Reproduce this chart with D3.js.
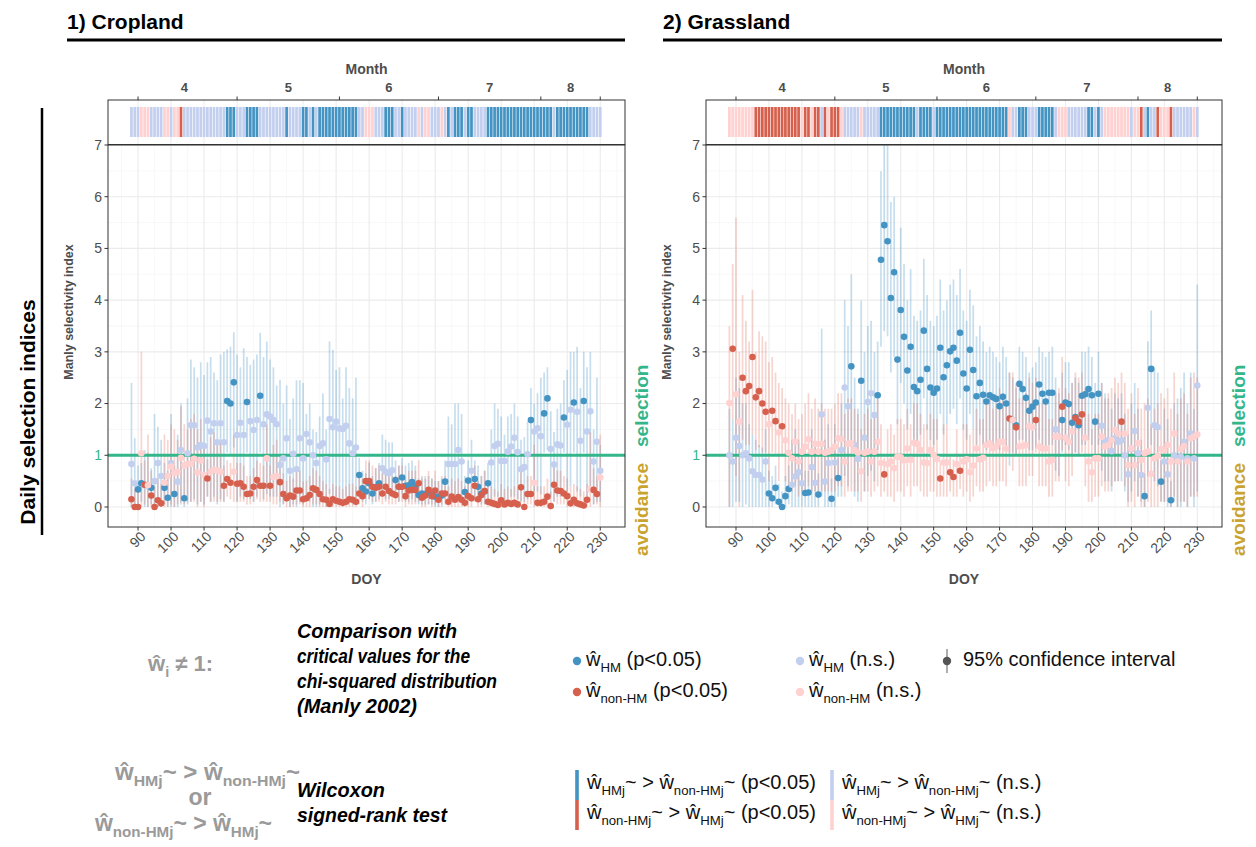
<!DOCTYPE html>
<html><head><meta charset="utf-8">
<script src="https://cdn.jsdelivr.net/npm/d3@7"></script>
<style>body{margin:0;background:#fff}svg{display:block}</style>
</head><body>
<svg id="chart" width="1256" height="847"></svg>
<script>
// ---------------- DATA ----------------
const days = d3.range(88, 231); // DOY 88..230
const xTickValues = [90,100,110,120,130,140,150,160,170,180,190,200,210,220,230];
const yTickValues = [0,1,2,3,4,5,6,7];
const monthLabels = ["4","5","6","7","8"];
const monthLabelDOY = [104,135.5,166,196.5,221];
const monthBreakDOY = [90,120,151,181,212,230];

// Cropland – HM
const cropHM = [0.83,0.46,0.34,0.46,0.42,0.4,0.37,0.5,0.85,0.6,
0.37,0.18,0.85,0.25,0.49,1.1,0.17,1.04,1.58,1.58,
1.15,1.2,1.18,1.67,1.46,1.62,1.25,1.62,1.25,2.05,
2.0,2.41,1.39,1.63,1.39,2.03,1.66,1.49,1.68,2.15,
1.6,1.79,1.75,1.68,1.6,0.81,0.94,1.33,0.7,1.03,
0.73,1.33,0.94,1.41,1.25,1.0,0.85,1.18,1.23,0.92,
1.7,1.54,1.65,1.52,1.51,1.57,1.23,1.04,1.15,0.62,
0.36,0.3,0.46,0.26,0.38,0.46,0.75,0.68,0.65,0.71,
0.52,0.39,0.57,0.41,0.42,0.48,0.39,0.23,0.26,0.25,
0.28,0.24,0.2,0.2,0.22,0.49,0.83,0.83,0.83,1.1,
0.88,0.29,0.51,0.7,0.54,0.39,0.26,0.3,0.46,0.86,
1.18,1.22,0.89,0.89,1.07,1.17,1.34,1.06,0.73,0.77,
1.02,1.68,1.46,1.52,1.37,1.81,2.1,1.12,0.82,1.21,
1.19,1.73,1.59,1.88,2.02,1.84,1.28,2.05,1.46,1.85,
0.88,1.26,0.7];
const cropHMlo = [0,0,0.05,0.1,0,0,0.05,0,0,0,
0.05,0,0,0,0,0.05,0,0.05,0.1,0.15,
0.05,0.1,0.05,0.2,0.1,0.2,0.05,0.15,0.1,1.05,
1.02,1.15,0.1,0.2,0.15,1.05,0.15,0.1,0.2,1.05,
0.15,0.25,0.2,0.2,0.2,0,0.05,0.1,0,0.05,
0,0.1,0.05,0.1,0.1,0,0,0.05,0.1,0,
0.25,0.2,0.2,0.15,0.15,0.2,0.1,0.05,0.1,0.3,
0.1,0.05,0.15,0.05,0.1,0.15,0.2,0.15,0.15,0.2,
0.2,0.1,0.25,0.1,0.1,0.15,0.1,0.05,0.05,0.05,
0.05,0.05,0,0,0,0.15,0.1,0.1,0.1,0.2,
0.1,0.05,0.15,0.1,0.15,0.1,0.05,0.05,0.1,0.1,
0.2,0.2,0.1,0.1,0.15,0.2,0.2,0.15,0.1,0.1,
0.15,1.05,0.3,0.3,0.25,1.05,1.1,0.2,0.1,0.2,
0.2,1.05,0.3,0.4,1.05,0.3,0.2,1.05,0.2,0.3,
0.05,0.1,0.1];
const cropHMhi = [2.4,1.33,0.8,0.85,1.1,1.05,0.75,1.8,1.55,1.3,
0.85,0.7,1.8,0.8,1.4,2.0,0.75,2.1,2.85,2.7,
2.5,2.8,2.55,2.8,2.9,2.6,2.45,2.95,3.0,3.05,
3.1,3.38,2.95,2.7,3.07,2.9,2.75,2.85,2.95,3.37,
2.9,3.2,2.85,2.7,2.35,2.46,2.0,2.35,1.7,2.1,
2.45,2.45,2.4,1.8,2.0,1.5,1.45,1.75,2.2,1.5,
3.2,3.04,2.65,2.7,2.1,2.7,2.3,2.1,2.5,0.95,
0.7,0.65,0.85,0.6,0.75,0.85,1.4,1.3,1.25,1.25,
0.9,0.8,0.95,0.8,0.85,0.9,0.8,0.55,0.6,0.55,
0.6,0.55,0.5,0.5,0.55,0.9,1.75,1.6,2.0,2.0,
1.8,0.6,0.9,1.3,0.9,0.8,0.6,0.7,0.85,1.5,
2.0,1.9,1.75,1.4,1.75,1.8,2.0,1.75,1.3,1.35,
1.65,2.3,2.0,2.2,2.5,2.6,2.7,1.85,1.45,1.9,
2.0,2.45,2.65,3.0,3.0,3.1,2.3,3.0,2.7,3.0,
1.5,2.5,1.2];
const cropHMsig = [0,0,1,1,0,0,1,0,0,0,
1,1,0,1,0,0,1,0,0,0,
0,0,0,0,0,0,0,0,0,1,
1,1,0,0,0,1,0,0,0,1,
0,0,0,0,0,0,0,0,0,0,
0,0,0,0,0,0,0,0,0,0,
0,0,0,0,0,0,0,0,0,1,
1,1,1,1,1,1,0,0,0,0,
1,1,1,1,1,1,1,1,1,1,
1,1,1,1,1,1,0,0,0,0,
0,1,1,0,1,1,1,1,1,0,
0,0,0,0,0,0,0,0,0,0,
0,1,0,0,0,1,1,0,0,0,
0,1,0,0,1,0,0,1,0,0,
0,0,0];

// Cropland – non-HM
const cropNH = [0.15,0,0,1.04,0.43,0.42,0.22,0,0.13,0.07,
0.47,0.6,0.78,0.66,0.68,0.95,0.8,0.83,0.83,0.93,
0.67,0.9,0.62,0.55,0.68,0.72,0.7,0.68,0.41,0.54,
0.47,0.68,0.45,0.46,0.39,0.25,0.26,0.39,0.52,0.41,
0.41,0.94,0.41,0.58,0.6,0.48,0.25,0.17,0.22,0.2,
0.32,0.32,0.15,0.17,0.23,0.36,0.33,0.25,0.15,0.14,
0.06,0.15,0.12,0.1,0.08,0.1,0.15,0.14,0.1,0.26,
0.21,0.5,0.5,0.39,0.37,0.39,0.26,0.39,0.31,0.26,
0.23,0.39,0.39,0.21,0.32,0.33,0.33,0.46,0.18,0.22,
0.33,0.21,0.32,0.14,0.26,0.26,0.1,0.2,0.14,0.19,
0.14,0.08,0.21,0.17,0.41,0.15,0.23,0.31,0.1,0.08,
0.06,0.04,0.13,0.05,0.08,0.06,0.08,0.05,0.38,0,
0.25,0.25,0.47,0.08,0.08,0.1,0.2,0.02,0.43,0.32,
0.31,0.26,0.21,0.07,0.14,0.07,0.05,0.03,0.14,0.34,
0.33,0.25,0.57];
const cropNHlo = [0,0,0,0,0.05,0,0,0,0,0,
0,0,0.05,0,0.05,0.1,0.05,0.1,0.1,0.1,
0,0.1,0,0.2,0.1,0.1,0.1,0.1,0.1,0.2,
0.15,0.1,0.1,0.1,0.1,0.05,0.05,0.1,0.15,0.1,
0.1,0.1,0.1,0.05,0.05,0.1,0.05,0,0,0,
0.05,0.05,0,0,0,0.05,0.05,0,0,0,
0,0,0,0,0,0,0,0,0,0.05,
0,0.15,0.15,0.1,0.1,0.1,0.05,0.1,0.05,0.05,
0.05,0.1,0.1,0,0.05,0.05,0.05,0.1,0,0,
0.05,0,0.05,0,0.05,0.05,0,0,0,0,
0,0,0,0,0.1,0,0,0.05,0,0,
0,0,0,0,0,0,0,0,0.1,0,
0.05,0.05,0,0,0,0,0,0,0.1,0.05,
0.05,0.05,0,0,0,0,0,0,0,0,
0.05,0.05,0];
const cropNHhi = [0.55,0.35,0.3,3.0,0.9,1.4,0.7,0.4,0.55,0.45,
1.4,1.3,1.6,1.5,1.3,1.95,1.6,1.5,1.7,1.8,
1.5,1.7,1.2,0.92,1.35,1.45,1.3,1.25,0.8,0.9,
0.85,1.4,0.85,0.85,0.8,0.6,0.6,0.75,0.9,0.85,
0.8,1.6,0.8,1.2,1.3,0.9,0.65,0.5,0.6,0.55,
0.7,0.7,0.5,0.5,0.6,0.75,0.7,0.6,0.5,0.45,
0.35,0.45,0.4,0.4,0.35,0.4,0.45,0.45,0.4,0.6,
0.55,0.9,0.9,0.8,0.75,0.8,0.65,0.75,0.7,0.6,
0.6,0.8,0.8,0.55,0.7,0.7,0.7,0.9,0.55,0.6,
0.7,0.55,0.7,0.5,0.6,0.6,0.4,0.55,0.5,0.55,
0.5,0.4,0.55,0.5,0.8,0.5,0.6,0.7,0.4,0.4,
0.35,0.3,0.45,0.35,0.4,0.35,0.4,0.35,0.8,0.3,
0.6,0.6,1.2,0.4,0.4,0.4,0.55,0.3,0.85,0.7,
0.7,0.6,0.55,0.4,0.45,0.4,0.35,0.3,0.45,1.45,
0.75,0.6,1.4];
const cropNHsig = [1,1,1,0,1,0,1,1,1,1,
0,0,0,0,0,0,0,0,0,0,
0,0,0,1,0,0,0,0,1,1,
1,0,1,1,1,1,1,1,1,1,
1,0,1,0,0,1,1,1,1,1,
1,1,1,1,1,1,1,1,1,1,
1,1,1,1,1,1,1,1,1,1,
1,1,1,1,1,1,1,1,1,1,
1,1,1,1,1,1,1,1,1,1,
1,1,1,1,1,1,1,1,1,1,
1,1,1,1,1,1,1,1,1,1,
1,1,1,1,1,1,1,1,1,1,
1,1,0,1,1,1,1,1,1,1,
1,1,1,1,1,1,1,1,1,0,
1,1,0];

// Grassland – HM
const grassHM = [1.0,0.88,1.34,1.18,1.0,1.04,0.94,0.69,0.62,0.62,
0.53,0.88,0.26,0.17,0.37,0.1,0,0.21,0.35,0.43,
0.59,0.67,0.46,0.27,0.28,0.77,0.47,0.24,1.79,0.49,
0.85,0.16,0.86,0.56,1.1,2.31,1.95,2.72,1.2,0.93,
2.44,1.34,2.03,2.2,1.78,2.16,4.78,5.45,5.14,4.04,
4.54,2.85,3.81,3.29,2.64,3.1,2.32,2.24,2.46,3.41,
2.67,2.31,2.21,2.29,3.08,2.51,2.74,3.01,3.08,2.83,
3.37,2.58,2.29,3.04,2.65,2.14,2.4,2.17,2.04,2.16,
2.12,2.09,1.95,2.13,2.0,1.71,1.68,1.58,2.38,2.28,
2.11,1.86,1.94,2.02,2.37,2.19,2.04,2.21,2.21,1.5,
1.36,1.68,2.02,1.99,1.63,1.74,1.58,2.15,2.18,2.28,
2.16,1.65,2.19,1.57,1.28,1.29,1.08,1.33,1.26,1.29,
1.0,0.63,1.12,1.47,1.04,0.62,0.21,1.92,2.67,1.58,
1.54,0.49,0.88,0.63,0.13,1.0,0.94,0.97,1.26,0.94,
1.42,0.94,2.35];
const grassHMlo = [0,0,0.1,0.1,0,0.05,0,0,0,0,
0,0,0,0,0.05,0,0,0,0.05,0,
0,0,0,0,0,0,0,0,0.2,0,
0,0,0,0.2,0.2,0.6,0.4,1.2,0.2,0.1,
1.1,0.3,0.6,0.7,0.5,1.1,3.1,3.4,3.3,2.6,
2.9,1.6,2.4,2.0,1.5,1.8,1.3,1.2,1.4,2.1,
1.5,1.3,1.2,1.3,1.8,1.4,1.6,1.8,1.9,1.6,
2.1,1.5,1.3,1.8,1.5,1.2,1.4,1.2,1.1,1.2,
1.2,1.15,1.1,1.2,1.1,0.8,1.05,1.02,1.3,1.3,
1.2,1.1,1.1,1.15,1.3,1.2,1.15,1.2,1.2,0.7,
0.6,1.05,1.2,1.1,1.03,1.05,1.02,1.2,1.2,1.3,
1.2,1.03,1.2,0.7,0.5,0.5,0.3,0.5,0.5,0.5,
0.3,0.1,0.3,0.5,0.2,0.1,0,0.6,1.2,0.5,
0.4,0.1,0.1,0,0,0.1,0,0,0.1,0,
0.2,0,0.3];
const grassHMhi = [1.9,1.7,2.5,2.3,2.0,2.0,1.6,1.4,1.3,1.2,
1.15,1.5,0.7,0.6,0.8,0.45,0.3,0.6,0.8,1.3,
1.5,1.3,1.1,0.7,0.7,1.5,1.2,0.65,3.45,1.3,
1.6,0.55,1.6,0.95,2.0,4.0,3.5,4.5,2.5,1.9,
3.99,3.0,3.5,3.6,3.0,3.2,6.49,7.6,7.3,5.9,
6.0,4.5,5.4,4.7,4.0,4.6,3.7,3.6,3.8,4.8,
4.1,3.6,3.5,3.7,4.4,3.8,4.0,4.3,4.4,4.1,
4.6,3.8,3.6,4.2,3.9,3.3,3.5,3.2,3.0,3.1,
3.0,2.9,2.8,3.1,2.9,2.6,2.5,2.3,3.1,3.0,
2.9,2.6,2.7,2.8,3.1,3.0,2.9,3.0,3.1,2.5,
2.2,2.6,2.8,2.8,2.4,2.5,2.4,3.0,3.0,3.1,
2.9,2.4,3.0,2.4,2.2,2.1,1.9,2.2,2.1,2.2,
1.8,1.4,2.0,2.4,1.9,1.3,0.65,3.2,3.8,2.7,
2.6,0.9,1.9,1.7,0.5,2.0,2.1,2.3,2.6,2.0,
2.6,1.9,4.3];
const grassHMsig = [0,0,0,0,0,0,0,0,0,0,
0,0,1,1,1,1,1,1,1,0,
0,0,0,1,1,0,0,1,0,0,
0,1,0,1,0,0,0,1,0,0,
1,0,0,0,0,1,1,1,1,1,
1,1,1,1,1,1,1,1,1,1,
1,1,1,1,1,1,1,1,1,1,
1,1,1,1,1,1,1,1,1,1,
1,1,1,1,1,0,1,1,1,1,
1,1,1,1,1,1,1,1,1,0,
0,1,1,1,1,1,1,1,1,1,
1,1,1,0,0,0,0,0,0,0,
0,0,0,0,0,0,1,0,1,0,
0,1,0,0,1,0,0,0,0,0,
0,0,0];

// Grassland – non-HM
const grassNH = [2.01,3.06,2.18,1.65,2.5,2.24,2.34,2.9,2.12,2.24,
2.0,1.84,1.6,1.86,1.66,1.44,1.56,1.29,1.05,0.94,
1.26,0.88,1.07,1.17,1.31,1.07,1.22,1.07,1.22,1.05,
1.07,1.1,1.17,1.33,1.31,0.88,1.22,1.23,1.1,1.05,
0.69,1.05,1.07,0.88,1.07,1.26,0.85,0.63,0.83,0.88,
0.75,0.97,0.96,0.9,1.13,0.91,1.24,1.22,1.1,0.86,
0.85,1.1,1.01,0.93,0.55,0.86,0.86,0.67,0.58,0.83,
0.7,0.88,0.92,0.67,0.8,1.13,0.92,0.95,1.2,1.23,
1.13,1.17,1.26,1.26,1.13,1.71,1.68,1.54,1.17,1.18,
1.2,1.56,1.54,1.68,1.17,1.13,1.13,0.88,0.91,1.36,
1.36,1.94,1.34,1.26,1.46,1.72,1.65,1.79,1.34,0.88,
0.67,0.94,0.94,1.36,1.17,1.2,1.29,1.49,1.42,1.65,
1.42,0.81,1.13,0.81,1.23,0.91,1.04,1.07,0.64,0.94,
0.99,1.12,1.1,1.2,0.88,1.42,0.88,1.12,1.18,0.88,
1.33,1.36,1.4];
const grassNHlo = [0,1.7,0.6,0,1.3,1.2,1.2,1.4,1.1,1.15,
1.05,1.05,0.5,1.05,1.03,0.5,1.02,0.5,0.4,0.3,
0.4,0.2,0.3,0.3,0.4,0.3,0.3,0.3,0.3,0.3,
0.3,0.3,0.3,0.4,0.4,0.2,0.3,0.3,0.3,0.3,
0.1,0.3,0.3,0.2,0.3,0.4,0.2,0.3,0.2,0.2,
0.1,0.3,0.3,0.2,0.4,0.2,0.4,0.4,0.3,0.2,
0.2,0.3,0.3,0.2,0.2,0.2,0.2,0.3,0.2,0.2,
0.35,0.2,0.3,0.1,0.2,0.4,0.3,0.3,0.4,0.5,
0.4,0.4,0.5,0.5,0.4,1.05,0.7,1.03,0.4,0.4,
0.4,0.6,0.6,1.05,0.4,0.4,0.4,0.2,0.2,0.5,
0.5,1.1,0.5,0.4,0.6,1.05,1.03,1.05,0.4,0.1,
0.1,0.2,0.2,0.4,0.3,0.3,0.4,0.5,0.5,1.03,
0.4,0,0.1,0,0.2,0,0,0.1,0,0,
0,0.1,0.1,0.1,0,0.2,0,0.1,0.1,0,
0.2,0.2,0.2];
const grassNHhi = [3.5,4.7,5.6,3.0,4.1,3.6,3.2,4.2,3.0,3.4,
3.3,3.2,2.8,2.9,2.6,2.4,2.3,2.1,2.0,1.8,
2.0,1.7,1.8,2.0,2.2,1.9,2.1,1.9,2.0,1.9,
1.9,1.9,2.0,2.2,2.2,1.8,2.1,2.1,1.9,1.8,
1.5,1.8,1.9,1.7,1.8,2.1,1.6,0.95,1.5,1.6,
1.4,1.7,1.7,1.6,1.9,1.6,2.0,2.0,1.8,1.6,
1.6,1.8,1.7,1.7,0.9,1.6,1.6,0.97,0.92,1.5,
0.97,1.6,1.6,1.4,1.5,1.9,1.7,1.7,2.0,2.1,
1.9,2.0,2.3,2.2,2.0,2.6,2.6,2.4,2.1,2.1,
2.2,2.5,2.4,2.5,2.0,2.0,2.0,1.7,1.7,2.2,
2.3,2.9,2.3,2.2,2.4,2.6,2.5,2.6,2.3,1.8,
1.5,1.8,1.8,2.4,2.1,2.2,2.3,2.5,2.4,2.6,
2.4,1.9,2.2,1.8,2.3,1.9,2.0,2.1,1.6,1.9,
2.0,2.2,2.1,2.3,1.9,2.6,1.8,2.1,2.2,1.8,
2.5,2.6,2.5];
const grassNHsig = [0,1,0,0,1,1,1,1,1,1,
1,1,0,1,1,0,1,0,0,0,
0,0,0,0,0,0,0,0,0,0,
0,0,0,0,0,0,0,0,0,0,
0,0,0,0,0,0,0,1,0,0,
0,0,0,0,0,0,0,0,0,0,
0,0,0,0,1,0,0,1,1,0,
1,0,0,0,0,0,0,0,0,0,
0,0,0,0,0,1,0,1,0,0,
0,0,0,1,0,0,0,0,0,0,
0,1,0,0,0,1,1,1,0,0,
0,0,0,0,0,0,0,0,0,1,
0,0,0,0,0,0,0,0,0,0,
0,0,0,0,0,0,0,0,0,0,
0,0,0];

// Daily Wilcoxon strip (runs of category per day from DOY 88)
// B = HM>nonHM p<0.05, b = HM>nonHM n.s., R = nonHM>HM p<0.05, r = nonHM>HM n.s.
const cropStripRuns = [["b",3],["r",3],["b",4],["r",2],["b",1],["r",2],["R",1],["b",13],["B",3],["b",3],
["B",4],["b",8],["B",1],["b",4],["B",2],["b",1],["B",1],["b",1],["B",12],["b",2],["r",3],["b",3],["B",3],
["b",2],["B",1],["b",4],["r",1],["b",1],["r",2],["b",3],["r",1],["b",1],["B",1],["b",1],["B",3],["b",1],
["B",2],["b",4],["B",20],["b",1],["B",10],["b",4]];
const grassStripRuns = [["r",8],["R",14],["r",1],["R",2],["r",1],["R",2],["b",1],["R",1],["r",1],["R",3],
["r",1],["b",5],["r",1],["b",5],["B",11],["b",1],["B",4],["b",1],["B",22],["r",1],["b",2],["B",3],["b",3],
["B",5],["b",1],["r",3],["b",6],["B",2],["b",1],["B",1],["b",1],["r",8],["b",1],["r",2],["R",1],["b",1],
["B",1],["b",2],["R",1],["r",3],["R",1],["b",6],["r",1],["b",1]];

// ---------------- STYLE ----------------
const FONT = "'Liberation Sans', Arial, Helvetica, sans-serif";
const COL = {B:"#4393C3", b:"#C3CFEF", R:"#D6604D", r:"#FFD1D1"};
const GREEN = "#33B68A", GOLD = "#C9A330", GRID = "#EBEBEB", TXT = "#4D4D4D";

const svg = d3.select("#chart");
svg.append("rect").attr("width",1256).attr("height",847).attr("fill","#fff");

function expandRuns(runs){ const out=[]; runs.forEach(([c,n])=>{for(let i=0;i<n;i++) out.push(c);}); return out; }

function drawPanel(o){
  const x = d3.scaleLinear().domain([80.9, 237.5]).range([o.x0, o.x1]);
  const y = d3.scaleLinear().domain([-0.387, 7]).range([527, 145]);
  const g = svg.append("g");
  const clipId = "clip"+o.id;
  svg.append("clipPath").attr("id",clipId).append("rect")
     .attr("x",o.x0).attr("y",145).attr("width",o.x1-o.x0).attr("height",382);

  // minor grid
  const xMinor = xTickValues.map(v=>v-5).concat([235]);
  const yMinor = yTickValues.slice(0,7).map(v=>v+0.5);
  g.selectAll(null).data(xMinor).join("line").attr("x1",d=>x(d)).attr("x2",d=>x(d))
    .attr("y1",145).attr("y2",527).attr("stroke","#F3F3F3").attr("stroke-width",0.6);
  g.selectAll(null).data(yMinor).join("line").attr("x1",o.x0).attr("x2",o.x1)
    .attr("y1",d=>y(d)).attr("y2",d=>y(d)).attr("stroke","#F3F3F3").attr("stroke-width",0.6);
  // major grid
  g.selectAll(null).data(xTickValues).join("line").attr("x1",d=>x(d)).attr("x2",d=>x(d))
    .attr("y1",145).attr("y2",527).attr("stroke",GRID).attr("stroke-width",1.1);
  g.selectAll(null).data(yTickValues).join("line").attr("x1",o.x0).attr("x2",o.x1)
    .attr("y1",d=>y(d)).attr("y2",d=>y(d)).attr("stroke",GRID).attr("stroke-width",1.1);

  // CIs
  const ci = g.append("g").attr("clip-path",`url(#${clipId})`);
  const mk = (v,lo,hi,sig)=>days.map((d,i)=>({d, v:v[i], lo:lo[i], hi:hi[i], s:sig[i]}));
  const hm = mk(o.hm,o.hmLo,o.hmHi,o.hmSig), nh = mk(o.nh,o.nhLo,o.nhHi,o.nhSig);
  ci.selectAll(null).data(hm).join("line").attr("x1",d=>x(d.d)).attr("x2",d=>x(d.d))
    .attr("y1",d=>y(d.lo)).attr("y2",d=>y(d.hi)).attr("stroke","#4393C3").attr("stroke-opacity",0.3).attr("stroke-width",1.7);
  ci.selectAll(null).data(nh).join("line").attr("x1",d=>x(d.d)).attr("x2",d=>x(d.d))
    .attr("y1",d=>y(d.lo)).attr("y2",d=>y(d.hi)).attr("stroke","#E0705F").attr("stroke-opacity",0.3).attr("stroke-width",1.7);

  // reference line at 1
  g.append("line").attr("x1",o.x0).attr("x2",o.x1).attr("y1",y(1)).attr("y2",y(1))
    .attr("stroke",GREEN).attr("stroke-width",3);

  // points
  const pts = g.append("g").attr("clip-path",`url(#${clipId})`);
  pts.selectAll(null).data(hm).join("circle").attr("cx",d=>x(d.d)).attr("cy",d=>y(d.v)).attr("r",3.3)
    .attr("fill",d=>d.s?COL.B:COL.b);
  pts.selectAll(null).data(nh).join("circle").attr("cx",d=>x(d.d)).attr("cy",d=>y(d.v)).attr("r",3.3)
    .attr("fill",d=>d.s?COL.R:COL.r);

  // frame
  g.append("rect").attr("x",o.x0).attr("y",145).attr("width",o.x1-o.x0).attr("height",382)
    .attr("fill","none").attr("stroke","#333").attr("stroke-width",1);

  // y axis
  g.selectAll(null).data(yTickValues).join("line").attr("x1",o.x0-3.5).attr("x2",o.x0)
    .attr("y1",d=>y(d)).attr("y2",d=>y(d)).attr("stroke","#333");
  g.selectAll(null).data(yTickValues).join("text").attr("x",o.x0-6).attr("y",d=>y(d)).attr("dy","0.35em")
    .attr("text-anchor","end").attr("font-family",FONT).attr("font-size",14)
    .attr("fill",d=>d===1?GREEN:TXT).text(d=>d);
  // x axis
  g.selectAll(null).data(xTickValues).join("line").attr("x1",d=>x(d)).attr("x2",d=>x(d))
    .attr("y1",527).attr("y2",530.5).attr("stroke","#333");
  g.selectAll(null).data(xTickValues).join("text")
    .attr("transform",d=>`translate(${x(d)+5},${534}) rotate(-45)`).attr("dy","0.35em")
    .attr("text-anchor","end").attr("font-family",FONT).attr("font-size",14).attr("fill",TXT).text(d=>d);
  // axis titles
  const cx = (o.x0+o.x1)/2;
  g.append("text").attr("x",cx).attr("y",584).attr("text-anchor","middle").attr("font-family",FONT)
    .attr("font-weight","bold").attr("font-size",14).attr("fill",TXT).text("DOY");
  g.append("text").attr("transform",`translate(${o.x0-35},312) rotate(-90)`).attr("text-anchor","middle")
    .attr("font-family",FONT).attr("font-weight","bold").attr("font-size",12.5).attr("fill",TXT)
    .text("Manly selectivity index");

  // selection / avoidance
  g.append("text").attr("transform",`translate(${o.x1+23},447) rotate(-90)`).attr("text-anchor","start")
    .attr("font-family",FONT).attr("font-weight","bold").attr("font-size",19).attr("fill",GREEN).text("selection");
  g.append("text").attr("transform",`translate(${o.x1+23},463) rotate(-90)`).attr("text-anchor","end")
    .attr("font-family",FONT).attr("font-weight","bold").attr("font-size",19).attr("fill",GOLD).text("avoidance");

  // ---- strip panel ----
  const sTop = 100, sBot = 144.5;
  g.selectAll(null).data(xTickValues).join("line").attr("x1",d=>x(d)).attr("x2",d=>x(d))
    .attr("y1",sTop).attr("y2",sBot).attr("stroke",GRID).attr("stroke-width",1);
  const strip = expandRuns(o.strip).map((c,i)=>({d:days[i], c}));
  g.selectAll(null).data(strip).join("rect").attr("x",d=>x(d.d)-1.35).attr("width",2.7)
    .attr("y",107).attr("height",30).attr("fill",d=>COL[d.c]);
  g.append("rect").attr("x",o.x0).attr("y",sTop).attr("width",o.x1-o.x0).attr("height",sBot-sTop)
    .attr("fill","none").attr("stroke","#333").attr("stroke-width",1);
  g.selectAll(null).data(monthBreakDOY).join("line").attr("x1",d=>x(d)).attr("x2",d=>x(d))
    .attr("y1",sTop-3.5).attr("y2",sTop).attr("stroke","#333");
  g.selectAll(null).data(monthLabels).join("text").attr("x",(d,i)=>x(monthLabelDOY[i])).attr("y",92)
    .attr("text-anchor","middle").attr("font-family",FONT).attr("font-weight","bold").attr("font-size",13)
    .attr("fill",TXT).text(d=>d);
  g.append("text").attr("x",cx).attr("y",74).attr("text-anchor","middle").attr("font-family",FONT)
    .attr("font-weight","bold").attr("font-size",14).attr("fill",TXT).text("Month");

  // title
  g.append("text").attr("x",o.tx).attr("y",29).attr("font-family",FONT).attr("font-weight","bold")
    .attr("font-size",21).attr("fill","#000").text(o.title);
  g.append("line").attr("x1",o.tx).attr("x2",o.x1).attr("y1",40).attr("y2",40).attr("stroke","#000").attr("stroke-width",3);
}

drawPanel({id:"crop", x0:108, x1:625, tx:67, title:"1) Cropland",
  hm:cropHM, hmLo:cropHMlo, hmHi:cropHMhi, hmSig:cropHMsig,
  nh:cropNH, nhLo:cropNHlo, nhHi:cropNHhi, nhSig:cropNHsig, strip:cropStripRuns});
drawPanel({id:"grass", x0:706, x1:1222, tx:663, title:"2) Grassland",
  hm:grassHM, hmLo:grassHMlo, hmHi:grassHMhi, hmSig:grassHMsig,
  nh:grassNH, nhLo:grassNHlo, nhHi:grassNHhi, nhSig:grassNHsig, strip:grassStripRuns});

// Left side label
svg.append("text").attr("transform","translate(35,412) rotate(-90)").attr("text-anchor","middle")
  .attr("font-family",FONT).attr("font-weight","bold").attr("font-size",21).attr("fill","#000")
  .text("Daily selection indices");
svg.append("line").attr("x1",42).attr("x2",42).attr("y1",108).attr("y2",535).attr("stroke","#000").attr("stroke-width",2.5);

// ---------------- LEGEND ----------------
function rich(x, y, parts, size, opts={}){
  const t = svg.append("text").attr("x",x).attr("y",y).attr("font-family",FONT).attr("font-size",size)
    .attr("fill",opts.fill||"#111").attr("font-weight",opts.weight||"normal").attr("dy","0.35em");
  if(opts.anchor) t.attr("text-anchor",opts.anchor);
  if(opts.width) t.attr("textLength",opts.width).attr("lengthAdjust","spacingAndGlyphs");
  let sub=false;
  parts.forEach(([s,k])=>{
    const ts = t.append("tspan").text(s);
    if(k==="s" && !sub){ ts.attr("font-size",size*0.66).attr("dy",size*0.28); sub=true; }
    else if(k==="s"){ ts.attr("font-size",size*0.66); }
    else if(sub){ ts.attr("dy",-size*0.28); sub=false; }
  });
  return t;
}
const GREY = "#9A9A9A";
rich(148,663,[["ŵ","n"],["i","s"],["  ≠ 1:","n"]],22,{fill:GREY,weight:"bold"});

const bi = (txt,x,y,w)=>svg.append("text").attr("x",x).attr("y",y).attr("dy","0.35em").attr("font-family",FONT)
  .attr("font-weight","bold").attr("font-style","italic").attr("font-size",20).attr("fill","#000")
  .attr("textLength",w).attr("lengthAdjust","spacingAndGlyphs").text(txt);
bi("Comparison with",297,631,160);
bi("critical values for the",297,656,173);
bi("chi-squared distribution",297,681,200);
bi("(Manly 2002)",297,706,120);
bi("Wilcoxon",297,790,88);
bi("signed-rank test",297,815,150);

// point legend
const ptLeg = [
  {x:577,y:661,c:COL.B,parts:[["ŵ","n"],["HM","s"],[" (p<0.05)","n"]]},
  {x:577,y:692,c:COL.R,parts:[["ŵ","n"],["non-HM","s"],[" (p<0.05)","n"]]},
  {x:800,y:661,c:COL.b,parts:[["ŵ","n"],["HM","s"],[" (n.s.)","n"]]},
  {x:800,y:692,c:COL.r,parts:[["ŵ","n"],["non-HM","s"],[" (n.s.)","n"]]}
];
ptLeg.forEach(l=>{
  svg.append("circle").attr("cx",l.x).attr("cy",l.y).attr("r",4.2).attr("fill",l.c);
  rich(l.x+9,l.y-2,l.parts,20);
});
svg.append("line").attr("x1",947).attr("x2",947).attr("y1",649).attr("y2",673).attr("stroke","#9a9a9a").attr("stroke-width",1.6);
svg.append("circle").attr("cx",947).attr("cy",661).attr("r",4.2).attr("fill","#555");
rich(963,659,[["95% confidence interval","n"]],20);

// strip legend
const stLeg = [
  {x:577,y:785,c:COL.B,parts:[["ŵ","n"],["HMj","s"],["~ > ŵ","n"],["non-HMj","s"],["~ (p<0.05)","n"]]},
  {x:577,y:815,c:COL.R,parts:[["ŵ","n"],["non-HMj","s"],["~ > ŵ","n"],["HMj","s"],["~ (p<0.05)","n"]]},
  {x:832,y:785,c:COL.b,parts:[["ŵ","n"],["HMj","s"],["~ > ŵ","n"],["non-HMj","s"],["~ (n.s.)","n"]]},
  {x:832,y:815,c:COL.r,parts:[["ŵ","n"],["non-HMj","s"],["~ > ŵ","n"],["HMj","s"],["~ (n.s.)","n"]]}
];
stLeg.forEach(l=>{
  svg.append("rect").attr("x",l.x-1.8).attr("y",l.y-15).attr("width",3.6).attr("height",30).attr("fill",l.c);
  rich(l.x+10,l.y-3,l.parts,20);
});

// left grey test labels
rich(115,772,[["ŵ","n"],["HMj","s"],["~ > ŵ","n"],["non-HMj","s"],["~","n"]],23,{fill:GREY,weight:"bold",width:185});
rich(200,797,[["or","n"]],23,{fill:GREY,weight:"bold",anchor:"middle"});
rich(95,823,[["ŵ","n"],["non-HMj","s"],["~ > ŵ","n"],["HMj","s"],["~","n"]],23,{fill:GREY,weight:"bold",width:177});

// sanity
[cropHM,cropHMlo,cropHMhi,cropHMsig,cropNH,cropNHlo,cropNHhi,cropNHsig,grassHM,grassHMlo,grassHMhi,grassHMsig,
 grassNH,grassNHlo,grassNHhi,grassNHsig].forEach((a,i)=>{ if(a.length!==143) console.error("len",i,a.length); });
[cropStripRuns,grassStripRuns].forEach((r,i)=>{ const n=d3.sum(r,d=>d[1]); if(n!==143) console.error("strip",i,n); });
</script>
</body></html>
